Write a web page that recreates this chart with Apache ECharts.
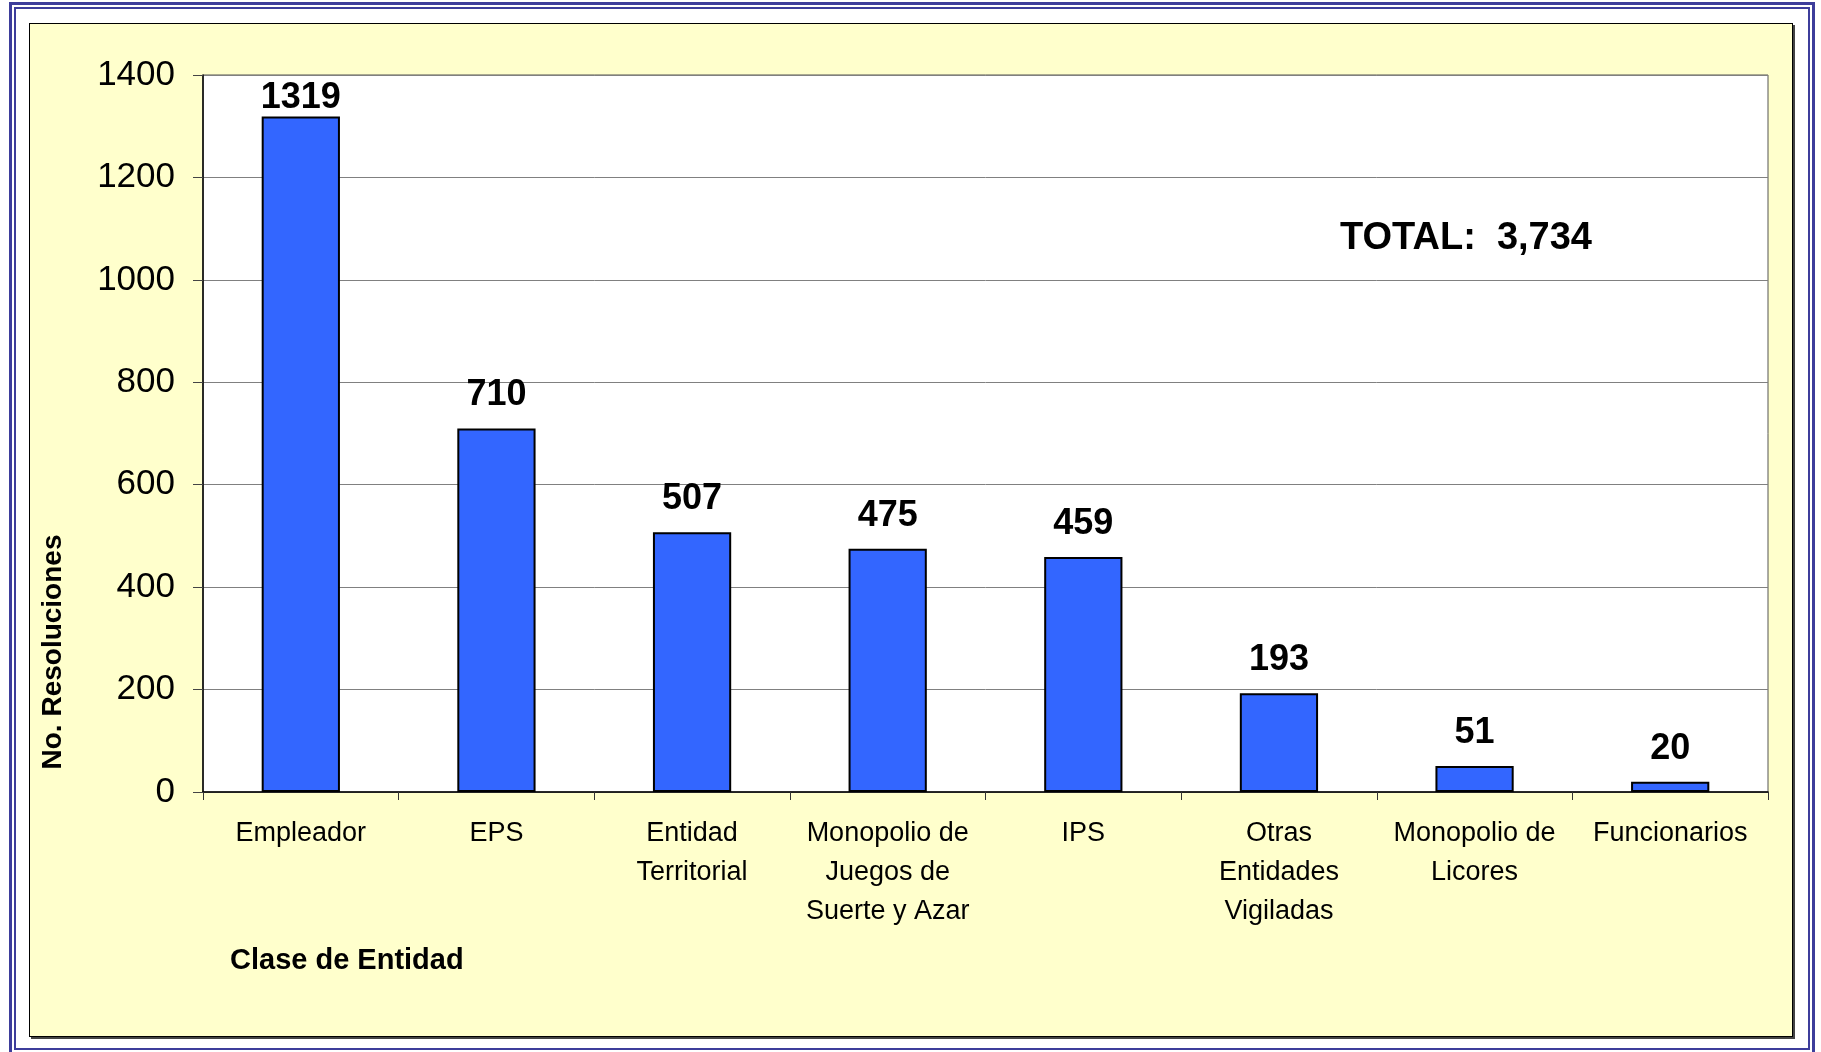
<!DOCTYPE html>
<html>
  <head>
    <meta charset="utf-8" />
    <title>Resoluciones por Clase de Entidad</title>
    <script src="https://cdn.jsdelivr.net/npm/echarts@6.0.0/dist/echarts.min.js"></script>
    <style>
      body {
        margin: 0;
        padding: 0;
        background: #ffffff;
        width: 1821px;
        height: 1052px;
        overflow: hidden;
        position: relative;
      }
      .line1 {
        position: absolute;
        left: 9px;
        top: 2px;
        width: 1800px;
        height: 1050px;
        border: 3px solid #3d3d9b;
      }
      .line2 {
        position: absolute;
        left: 14px;
        top: 7px;
        width: 1792px;
        height: 1039px;
        border: 2px solid #3d3d9b;
      }
      .panel {
        position: absolute;
        left: 29px;
        top: 23px;
        width: 1762px;
        height: 1012px;
        background: #ffffcc;
        border: 1.5px solid #000;
        box-shadow: 2px 2px 0 #444;
      }
      #main {
        position: absolute;
        left: 0;
        top: 0;
        width: 1821px;
        height: 1052px;
      }
    </style>
  </head>
  <body>
    <div class="line1"></div>
    <div class="line2"></div>
    <div class="panel"></div>
    <div id="main"></div>
    <script type="text/javascript">
      var categories = [
        "Empleador",
        "EPS",
        "Entidad\nTerritorial",
        "Monopolio de\nJuegos de\nSuerte y Azar",
        "IPS",
        "Otras\nEntidades\nVigiladas",
        "Monopolio de\nLicores",
        "Funcionarios",
      ];
      var resoluciones = [1319, 710, 507, 475, 459, 193, 51, 20];
      var totalText = "TOTAL:  3,734";

      var myChart = echarts.init(document.getElementById("main"));
      var font = "Liberation Sans, Arial, sans-serif";

      var option = {
        backgroundColor: "transparent",
        animation: false,
        textStyle: { fontFamily: font },
        grid: {
          left: 203,
          top: 75,
          right: 53,
          bottom: 260,
          show: true,
          backgroundColor: "#ffffff",
          borderColor: "#555555",
          borderWidth: 1,
          outerBoundsMode: "none",
        },
        xAxis: {
          type: "category",
          data: categories,
          boundaryGap: true,
          axisLine: { lineStyle: { color: "#000", width: 1.5 } },
          axisTick: {
            show: true,
            interval: 0,
            length: 8,
            lineStyle: { color: "#333" },
          },
          axisLabel: {
            interval: 0,
            color: "#000",
            fontSize: 27,
            lineHeight: 39,
            margin: 22,
            fontFamily: font,
          },
          splitLine: { show: false },
        },
        yAxis: {
          type: "value",
          min: 0,
          max: 1400,
          interval: 200,
          axisLine: { show: true, lineStyle: { color: "#000", width: 1.5 } },
          axisTick: {
            show: true,
            length: 10,
            lineStyle: { color: "#444" },
          },
          axisLabel: {
            color: "#000",
            fontSize: 35,
            margin: 28,
            fontFamily: font,
            formatter: function (v) {
              return String(v);
            },
          },
          splitLine: { lineStyle: { color: "#808080", width: 1 } },
        },
        series: [
          {
            type: "bar",
            data: resoluciones,
            barWidth: "40%",
            itemStyle: {
              color: "#3366ff",
              borderColor: "#000",
              borderWidth: 2,
            },
            label: {
              show: true,
              position: "top",
              distance: 15,
              color: "#000",
              fontSize: 36,
              fontWeight: "bold",
              fontFamily: font,
            },
            labelLayout: function (p) {
              // keep labels inside the plot area, as the original does
              if (p.labelRect && p.labelRect.y < 80) {
                return { dy: 80 - p.labelRect.y };
              }
              return {};
            },
          },
        ],
        graphic: [
          {
            type: "text",
            x: 53,
            y: 652,
            rotation: Math.PI / 2,
            style: {
              text: "No. Resoluciones",
              fill: "#000",
              font: "bold 28px " + font,
              textAlign: "center",
              textVerticalAlign: "middle",
            },
          },
          {
            type: "text",
            x: 230,
            y: 961,
            style: {
              text: "Clase de Entidad",
              fill: "#000",
              font: "bold 29px " + font,
              textAlign: "left",
              textVerticalAlign: "middle",
            },
          },
          {
            type: "text",
            x: 1340,
            y: 239,
            style: {
              text: totalText,
              fill: "#000",
              font: "bold 38px " + font,
              textAlign: "left",
              textVerticalAlign: "middle",
            },
          },
        ],
      };

      myChart.setOption(option);
    </script>
  </body>
</html>
